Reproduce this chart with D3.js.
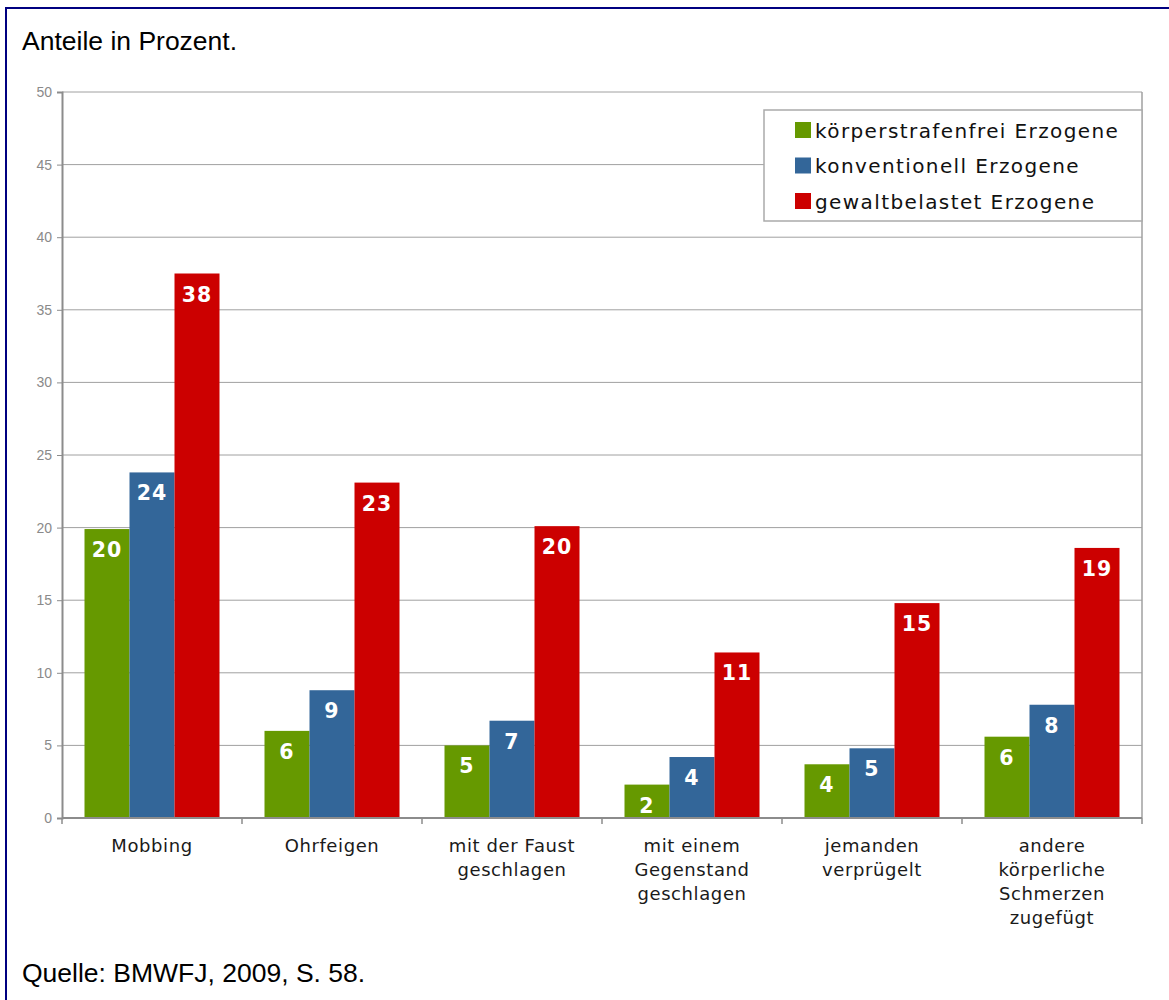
<!DOCTYPE html>
<html><head><meta charset="utf-8">
<script src="https://cdn.jsdelivr.net/npm/d3@7"></script>
<style>
html,body{margin:0;padding:0;background:#fff;}
svg{display:block;}
</style>
</head><body>
<svg id="chart" width="1169" height="1000"></svg>
<script>
const categories = [
  ["Mobbing"],
  ["Ohrfeigen"],
  ["mit der Faust", "geschlagen"],
  ["mit einem", "Gegenstand", "geschlagen"],
  ["jemanden", "verprügelt"],
  ["andere", "körperliche", "Schmerzen", "zugefügt"]
];
const seriesNames = ["körperstrafenfrei Erzogene", "konventionell Erzogene", "gewaltbelastet Erzogene"];
const seriesColors = ["#669900", "#336699", "#CC0000"];
const koerperstrafenfrei = [19.9, 6.0, 5.0, 2.3, 3.7, 5.6];
const konventionell = [23.8, 8.8, 6.7, 4.2, 4.8, 7.8];
const gewaltbelastet = [37.5, 23.1, 20.1, 11.4, 14.8, 18.6];
const yTicks = [0, 5, 10, 15, 20, 25, 30, 35, 40, 45, 50];

const svg = d3.select("#chart");
const L = 62, R = 1142, T = 92, B = 818;

// outer frame (top and left visible)
svg.append("rect").attr("x", 6).attr("y", 8).attr("width", 1200).attr("height", 1100)
  .attr("fill", "none").attr("stroke", "#000080").attr("stroke-width", 2);

svg.append("text").attr("x", 22).attr("y", 50)
  .attr("font-family", "Liberation Sans, Arial, sans-serif").attr("font-size", 26.5)
  .attr("fill", "#000").text("Anteile in Prozent.");
svg.append("text").attr("x", 22).attr("y", 982)
  .attr("font-family", "Liberation Sans, Arial, sans-serif").attr("font-size", 26.5)
  .attr("fill", "#000").text("Quelle: BMWFJ, 2009, S. 58.");

const catKeys = categories.map(c => c.join(" "));
const x0 = d3.scaleBand().domain(catKeys).range([L, R]).paddingInner(0.25).paddingOuter(0.125);
const x1 = d3.scaleBand().domain(d3.range(3)).range([0, x0.bandwidth()]);
const y = d3.scaleLinear().domain([0, 50]).range([B, T]);

// gridlines
svg.append("g").selectAll("line").data(yTicks.filter(d => d > 0)).join("line")
  .attr("x1", L).attr("x2", R).attr("y1", d => y(d)).attr("y2", d => y(d))
  .attr("stroke", "#a0a0a0").attr("stroke-width", 1);
// right border of plot
svg.append("line").attr("x1", R).attr("x2", R).attr("y1", T).attr("y2", B)
  .attr("stroke", "#a0a0a0").attr("stroke-width", 1.5);

// y axis
const yAxis = d3.axisLeft(y).tickValues(yTicks).tickSize(5).tickPadding(5);
const gy = svg.append("g").attr("transform", `translate(${L},0)`).call(yAxis);
gy.select(".domain").attr("stroke", "#8c8c8c").attr("stroke-width", 2);
gy.selectAll(".tick line").attr("stroke", "#8c8c8c");
gy.selectAll(".tick text").attr("font-family", "Liberation Sans, Arial, sans-serif")
  .attr("font-size", 14).attr("fill", "#8a8a8a");

// bars
const data = [koerperstrafenfrei, konventionell, gewaltbelastet];
const groups = svg.append("g").selectAll("g").data(catKeys).join("g")
  .attr("transform", d => `translate(${x0(d)},0)`);
groups.each(function(cat, ci) {
  const g = d3.select(this);
  data.forEach((arr, si) => {
    const v = arr[ci];
    g.append("rect").attr("x", x1(si)).attr("width", x1.bandwidth())
      .attr("y", y(v)).attr("height", B - y(v)).attr("fill", seriesColors[si]);
    g.append("text").attr("x", x1(si) + x1.bandwidth() / 2).attr("y", y(v) + 28)
      .attr("text-anchor", "middle").attr("font-family", "DejaVu Sans, Verdana, sans-serif")
      .attr("font-weight", "bold").attr("font-size", 20.5).attr("letter-spacing", 1)
      .attr("fill", "#fff").text(Math.round(v));
  });
});

// x axis
svg.append("line").attr("x1", L).attr("x2", R).attr("y1", B).attr("y2", B)
  .attr("stroke", "#8c8c8c").attr("stroke-width", 2);
const boundaries = d3.range(categories.length + 1).map(i => L + i * x0.step());
svg.append("g").selectAll("line").data(boundaries).join("line")
  .attr("x1", d => d).attr("x2", d => d).attr("y1", B).attr("y2", B + 6)
  .attr("stroke", "#8c8c8c").attr("stroke-width", 1.5);

const xl = svg.append("g").selectAll("text").data(categories).join("text")
  .attr("text-anchor", "middle").attr("font-family", "DejaVu Sans, Verdana, sans-serif")
  .attr("font-size", 18).attr("letter-spacing", 0.6).attr("fill", "#1a1a1a")
  .attr("transform", (d, i) => `translate(${x0(catKeys[i]) + x0.bandwidth() / 2},852)`);
xl.selectAll("tspan").data(d => d).join("tspan")
  .attr("x", 0).attr("y", (d, i) => i * 24).text(d => d);

// legend
const lg = svg.append("g");
lg.append("rect").attr("x", 764).attr("y", 110).attr("width", 378).attr("height", 111)
  .attr("fill", "#fff").attr("stroke", "#aaaaaa").attr("stroke-width", 1.5);
seriesNames.forEach((n, i) => {
  const cy = 130 + i * 35.5;
  lg.append("rect").attr("x", 795).attr("y", cy - 8).attr("width", 16).attr("height", 16)
    .attr("fill", seriesColors[i]);
  lg.append("text").attr("x", 815).attr("y", cy + 7.5)
    .attr("font-family", "DejaVu Sans, Verdana, sans-serif").attr("font-size", 20)
    .attr("letter-spacing", 1.4).attr("fill", "#111").text(n);
});
</script>
</body></html>
